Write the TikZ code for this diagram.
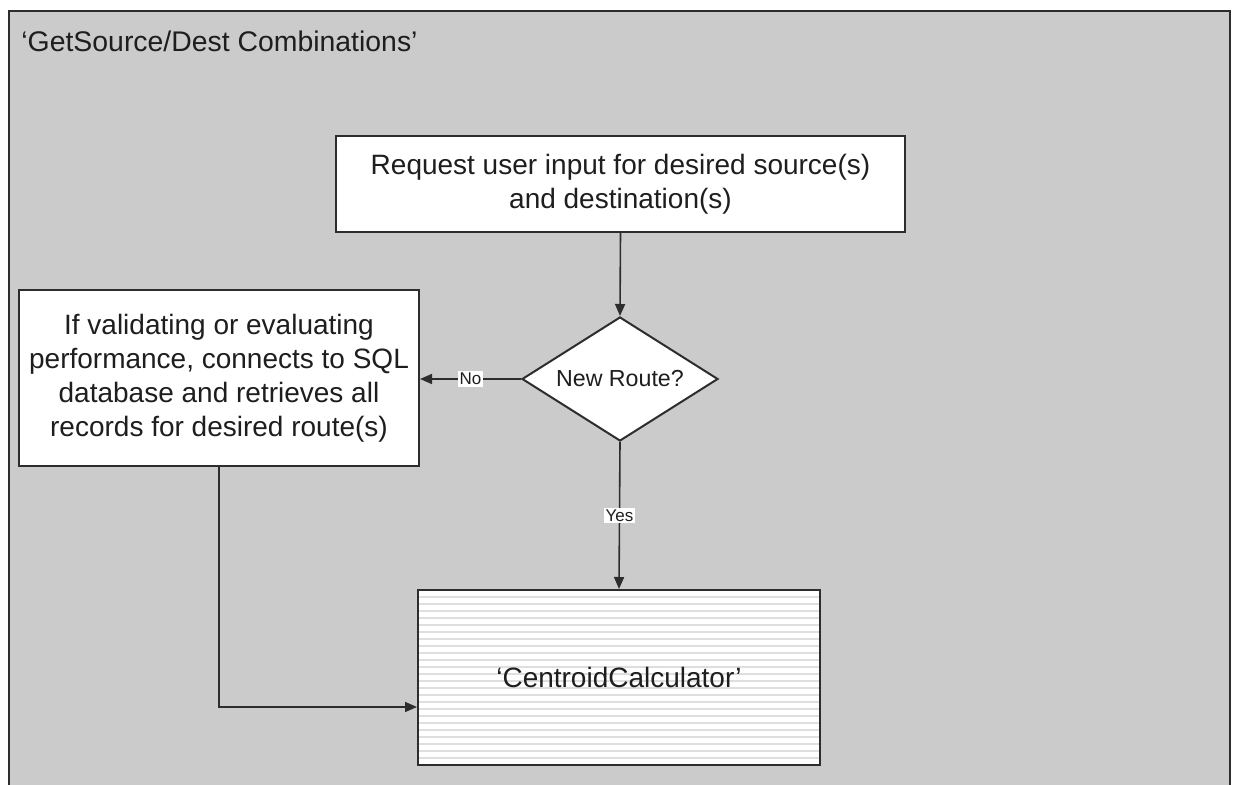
\documentclass[tikz,border=0pt]{standalone}
\usepackage{fontspec}
\setmainfont{Liberation Sans}
\usetikzlibrary{arrows.meta,shapes.geometric}

\definecolor{panelgray}{RGB}{203,203,203}
\definecolor{framedark}{RGB}{45,45,45}
\definecolor{inkdark}{RGB}{30,30,30}
\definecolor{stripegray}{RGB}{222,222,222}

\tikzset{
  stepbox/.style={draw=framedark, line width=1pt, fill=white, align=center,
    inner sep=0pt, font=\fontsize{14}{17}\selectfont, text=inkdark},
  decision/.style={diamond, aspect=1.58, draw=framedark, line width=1pt, fill=white,
    inner sep=0pt, font=\fontsize{11.6}{14}\selectfont, text=inkdark},
  flow/.style={draw=framedark, line width=0.8pt,
    -{Triangle[length=6pt,width=5pt]}},
  edgelabel/.style={fill=white, inner sep=0.8pt,
    font=\fontsize{8.5}{10}\selectfont, text=inkdark},
  stripe/.style={draw=stripegray, line width=0.7pt}
}

\begin{document}
\begin{tikzpicture}[x=0.5pt,y=-0.5pt]
  \useasboundingbox (0,0) rectangle (1233,785);

  % outer panel
  \begin{scope}
    \clip (0,0) rectangle (1233,785);
    \filldraw[fill=panelgray, draw=framedark, line width=1.3pt]
      (9,11) rectangle (1230,800);
  \end{scope}

  \node[anchor=base west, inner sep=0pt, font=\fontsize{14.2}{17}\selectfont, text=inkdark]
    (title) at (21,52) {‘GetSource/Dest Combinations’};

  % process steps
  \node[stepbox, minimum width=284.5pt, minimum height=48pt]
    (request) at (620.5,184) {Request user input for desired source(s)\\and destination(s)};

  \node[decision, minimum width=98pt, minimum height=62pt]
    (newroute) at (620,379) {New Route?};

  \node[stepbox, minimum width=200pt, minimum height=88pt]
    (retrieve) at (219,378) {If validating or evaluating\\performance, connects to SQL\\database and retrieves all\\records for desired route(s)};

  \node[stepbox, minimum width=201pt, minimum height=87.5pt,
    path picture={
      \foreach \k in {1,...,25}
        \draw[stripe] ([yshift=-\k*3.5pt]path picture bounding box.north west)
          -- ([yshift=-\k*3.5pt]path picture bounding box.north east);
    }]
    (centroid) at (619,677.5) {‘CentroidCalculator’};

  % connectors
  \draw[flow] (request.south) -- (newroute.north);
  \draw[flow] (newroute.west) -- node[edgelabel, pos=0.5] {No} (retrieve.east |- newroute.west);
  \draw[flow] (newroute.south) -- node[edgelabel, pos=0.5] {Yes} (centroid.north);
  \coordinate (bend) at (219,707);
  \draw[flow] (retrieve.south) -- (bend) -- (centroid.west |- bend);
\end{tikzpicture}
\end{document}
